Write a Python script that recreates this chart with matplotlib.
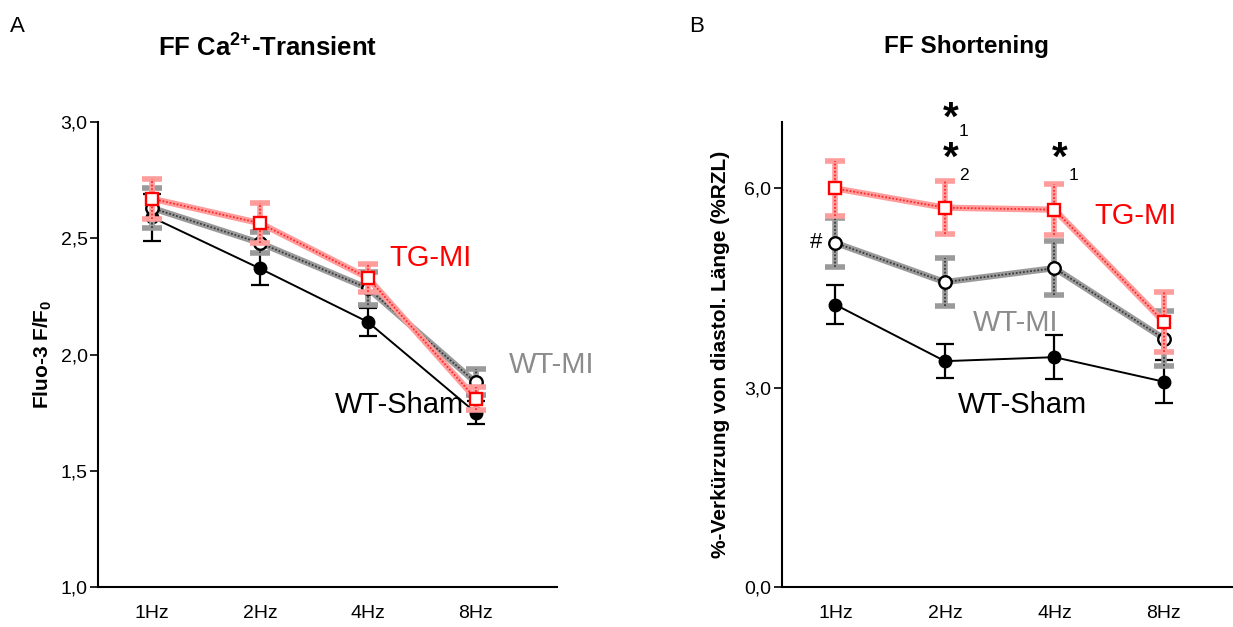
import numpy as np
import matplotlib
matplotlib.use("Agg")
import matplotlib.pyplot as plt

plt.rcParams['font.family'] = ['Liberation Sans', 'DejaVu Sans']
plt.rcParams['mathtext.fontset'] = 'custom'
plt.rcParams['mathtext.rm'] = 'Liberation Sans'
plt.rcParams['mathtext.bf'] = 'Liberation Sans:bold'

freqs = ['1Hz', '2Hz', '4Hz', '8Hz']

# A: Ca2+ transient (F/F0)
ca_sham = [2.59, 2.37, 2.14, 1.75]
ca_sham_err = [0.10, 0.07, 0.06, 0.05]
ca_wtmi = [2.63, 2.48, 2.285, 1.88]
ca_wtmi_err = [0.086, 0.045, 0.07, 0.056]
ca_tgmi = [2.67, 2.565, 2.33, 1.81]
ca_tgmi_err = [0.086, 0.086, 0.06, 0.05]

# B: shortening (%RZL)
sh_sham = [4.25, 3.40, 3.46, 3.09]
sh_sham_err = [0.29, 0.26, 0.33, 0.32]
sh_wtmi = [5.18, 4.59, 4.80, 3.74]
sh_wtmi_err = [0.37, 0.36, 0.41, 0.42]
sh_tgmi = [6.00, 5.71, 5.68, 3.99]
sh_tgmi_err = [0.42, 0.40, 0.38, 0.45]

x = np.arange(len(freqs))


def hatched_series(ax, y, err, base, dark, marker, mec, ms, zo):
    # thick light line + dotted dark overlay, mimics the textured lines
    ax.errorbar(x, y, yerr=err, fmt='none', ecolor=base, elinewidth=4,
                capsize=7.5, capthick=4, zorder=zo)
    eb = ax.errorbar(x, y, yerr=err, fmt='none', ecolor=dark, elinewidth=1.3,
                     capsize=0, zorder=zo + 0.1)
    eb[2][0].set_linestyle((0, (1, 1)))
    ax.plot(x, y, color=base, lw=4.5, zorder=zo + 0.2, solid_capstyle='butt')
    ax.plot(x, y, color=dark, lw=1.3, ls=(0, (1, 1)), zorder=zo + 0.3)
    ax.plot(x, y, ls='none', marker=marker, ms=ms, mfc='white', mec=mec,
            mew=1.7, zorder=zo + 0.4)


def sham_series(ax, y, err, zo):
    ax.errorbar(x, y, yerr=err, fmt='-o', color='black', lw=1.4, ms=9,
                elinewidth=1.6, capsize=6.5, capthick=1.6, zorder=zo)


def style_axes(ax, ylim, yticks, ylabels):
    ax.set_ylim(*ylim)
    ax.set_yticks(yticks)
    ax.set_yticklabels(ylabels, fontsize=14)
    ax.set_xticks(x)
    ax.set_xticklabels(freqs, fontsize=14)
    ax.tick_params(axis='x', length=0, pad=13)
    ax.tick_params(axis='y', length=6, width=1.2, direction='out', pad=1.5)
    for s in ['top', 'right']:
        ax.spines[s].set_visible(False)
    for s in ['left', 'bottom']:
        ax.spines[s].set_linewidth(1.5)


fig = plt.figure(figsize=(12.33, 6.27), dpi=100)

# Panel A
ax1 = fig.add_axes([0.0795, 0.0638, 0.372, 0.7416])
sham_series(ax1, ca_sham, ca_sham_err, 2)
hatched_series(ax1, ca_wtmi, ca_wtmi_err, '#9a9a9a', '#3a3a3a', 'o', 'black', 9, 3)
hatched_series(ax1, ca_tgmi, ca_tgmi_err, '#ff9c9c', '#ff2a2a', 's', '#ff0000', 9, 4)
ax1.set_xlim(-0.5, 3.75)
style_axes(ax1, (1.0, 3.0), [1.0, 1.5, 2.0, 2.5, 3.0], ['1,0', '1,5', '2,0', '2,5', '3,0'])
ax1.set_ylabel('Fluo-3 F/F$_\\mathbf{0}$', fontsize=15, fontweight='bold', labelpad=5)
ax1.text(2.58, 2.415, 'TG-MI', color='#ff0000', fontsize=21, ha='center', va='center')
ax1.text(3.70, 1.955, 'WT-MI', color='#8c8c8c', fontsize=21, ha='center', va='center')
ax1.text(2.29, 1.783, 'WT-Sham', color='black', fontsize=21, ha='center', va='center')

# Panel B
ax2 = fig.add_axes([0.634, 0.0638, 0.366, 0.7416])
sham_series(ax2, sh_sham, sh_sham_err, 2)
hatched_series(ax2, sh_wtmi, sh_wtmi_err, '#9a9a9a', '#3a3a3a', 'o', 'black', 9, 3)
hatched_series(ax2, sh_tgmi, sh_tgmi_err, '#ff9c9c', '#ff2a2a', 's', '#ff0000', 9, 4)
ax2.set_xlim(-0.49, 3.63)
style_axes(ax2, (0.0, 7.0), [0.0, 3.0, 6.0], ['0,0', '3,0', '6,0'])
ax2.set_ylabel('%-Verkürzung von diastol. Länge (%RZL)', fontsize=15, fontweight='bold', labelpad=10)
ax2.text(2.74, 5.59, 'TG-MI', color='#ff0000', fontsize=21, ha='center', va='center')
ax2.text(1.65, 3.98, 'WT-MI', color='#8c8c8c', fontsize=21, ha='center', va='center')
ax2.text(1.71, 2.74, 'WT-Sham', color='black', fontsize=21, ha='center', va='center')
ax2.text(-0.18, 5.18, '#', fontsize=16, ha='center', va='center')
# significance marks
ax2.text(1.05, 7.05, '*', fontsize=29, fontweight='bold', ha='center', va='center')
ax2.text(1.17, 6.85, '1', fontsize=12.5, ha='center', va='center')
ax2.text(1.05, 6.45, '*', fontsize=29, fontweight='bold', ha='center', va='center')
ax2.text(1.17, 6.2, '2', fontsize=12.5, ha='center', va='center')
ax2.text(2.05, 6.45, '*', fontsize=29, fontweight='bold', ha='center', va='center')
ax2.text(2.17, 6.2, '1', fontsize=12.5, ha='center', va='center')

# titles and panel letters
fig.text(268 / 1233, 1 - 47 / 627, 'FF Ca$^{\\mathbf{2{+}}}$-Transient', fontsize=18.5,
         fontweight='bold', ha='center', va='center')
fig.text(966 / 1233, 1 - 47 / 627, 'FF Shortening', fontsize=17.5,
         fontweight='bold', ha='center', va='center')
fig.text(17 / 1233, 1 - 27 / 627, 'A', fontsize=16, ha='center', va='center')
fig.text(697 / 1233, 1 - 27 / 627, 'B', fontsize=16, ha='center', va='center')

fig.savefig('out.png', dpi=100)
